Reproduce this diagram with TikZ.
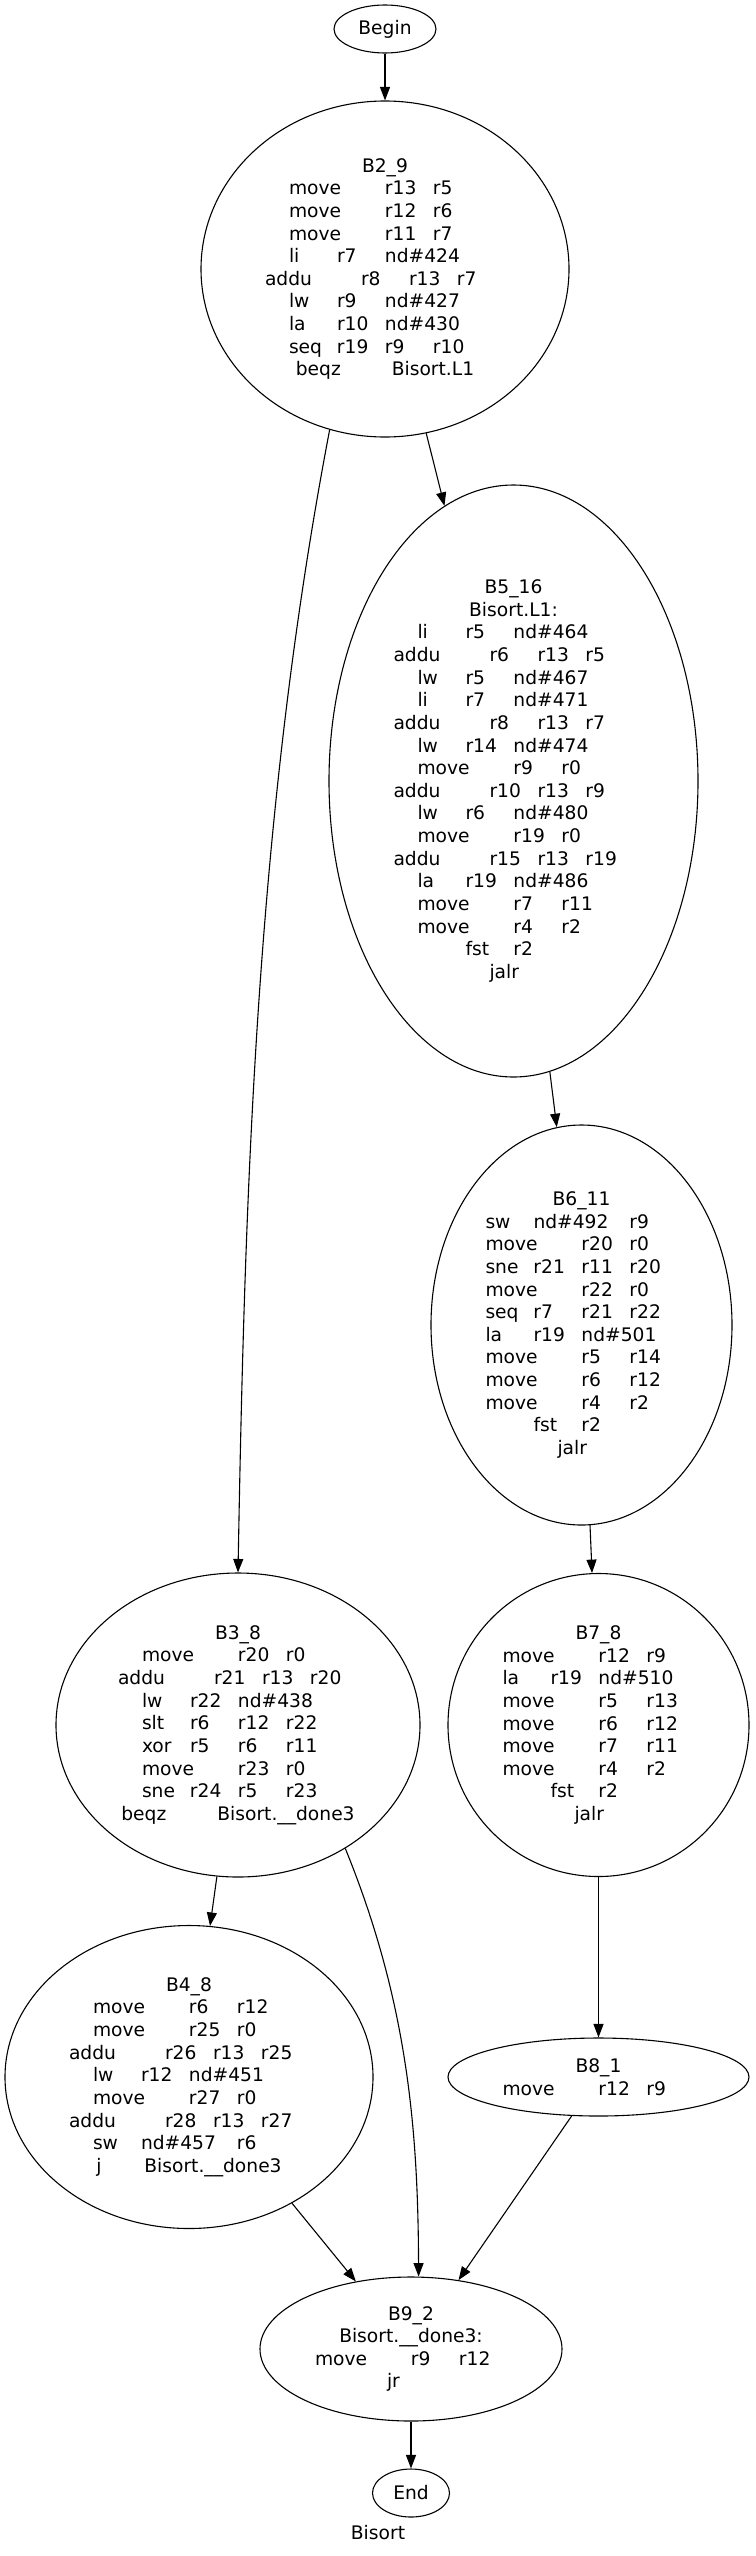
\documentclass[tikz,border=0pt]{standalone}
\usepackage{fontspec}
\setmainfont{DejaVu Sans}
\usetikzlibrary{arrows.meta,shapes.geometric}
\newlength\tabw
\setlength\tabw{48pt}
\newcommand\tc[2]{\makebox[#1\tabw][l]{#2}}

\begin{document}
\begin{tikzpicture}[x=1pt,y=-1pt,
    block/.style={draw,ellipse,inner sep=0pt,align=center,line width=1.1pt,
      font=\fontsize{18.67pt}{22.65pt}\selectfont},
    edge/.style={-{Triangle[length=13.5pt,width=10pt]},line width=1.1pt}]
  \useasboundingbox (0,0) rectangle (755,2556);

  % blocks
  \node[block,minimum width=102pt,minimum height=48pt] (begin) at (385,29) {Begin};
  \node[block,minimum width=368pt,minimum height=336pt] (b29) at (385,269) {B2\_9\\
    \tc{2}{move}\tc{1}{r13}\tc{1}{r5}\\
    \tc{2}{move}\tc{1}{r12}\tc{1}{r6}\\
    \tc{2}{move}\tc{1}{r11}\tc{1}{r7}\\
    \tc{1}{li}\tc{1}{r7}\tc{2}{nd\#424}\\
    \tc{2}{addu}\tc{1}{r8}\tc{1}{r13}\tc{1}{r7}\\
    \tc{1}{lw}\tc{1}{r9}\tc{2}{nd\#427}\\
    \tc{1}{la}\tc{1}{r10}\tc{2}{nd\#430}\\
    \tc{1}{seq}\tc{1}{r19}\tc{1}{r9}\tc{1}{r10}\\
    \tc{2}{beqz}Bisort.L1};
  \node[block,minimum width=369pt,minimum height=592pt] (b516) at (513.5,781) {B5\_16\\
    Bisort.L1:\\
    \tc{1}{li}\tc{1}{r5}\tc{2}{nd\#464}\\
    \tc{2}{addu}\tc{1}{r6}\tc{1}{r13}\tc{1}{r5}\\
    \tc{1}{lw}\tc{1}{r5}\tc{2}{nd\#467}\\
    \tc{1}{li}\tc{1}{r7}\tc{2}{nd\#471}\\
    \tc{2}{addu}\tc{1}{r8}\tc{1}{r13}\tc{1}{r7}\\
    \tc{1}{lw}\tc{1}{r14}\tc{2}{nd\#474}\\
    \tc{2}{move}\tc{1}{r9}\tc{1}{r0}\\
    \tc{2}{addu}\tc{1}{r10}\tc{1}{r13}\tc{1}{r9}\\
    \tc{1}{lw}\tc{1}{r6}\tc{2}{nd\#480}\\
    \tc{2}{move}\tc{1}{r19}\tc{1}{r0}\\
    \tc{2}{addu}\tc{1}{r15}\tc{1}{r13}\tc{1}{r19}\\
    \tc{1}{la}\tc{1}{r19}\tc{2}{nd\#486}\\
    \tc{2}{move}\tc{1}{r7}\tc{1}{r11}\\
    \tc{2}{move}\tc{1}{r4}\tc{1}{r2}\\
    \tc{1}{fst}\tc{1}{r2}\\
    \tc{1}{jalr}};
  \node[block,minimum width=301pt,minimum height=400pt] (b611) at (581.5,1325) {B6\_11\\
    \tc{1}{sw}\tc{2}{nd\#492}\tc{1}{r9}\\
    \tc{2}{move}\tc{1}{r20}\tc{1}{r0}\\
    \tc{1}{sne}\tc{1}{r21}\tc{1}{r11}\tc{1}{r20}\\
    \tc{2}{move}\tc{1}{r22}\tc{1}{r0}\\
    \tc{1}{seq}\tc{1}{r7}\tc{1}{r21}\tc{1}{r22}\\
    \tc{1}{la}\tc{1}{r19}\tc{2}{nd\#501}\\
    \tc{2}{move}\tc{1}{r5}\tc{1}{r14}\\
    \tc{2}{move}\tc{1}{r6}\tc{1}{r12}\\
    \tc{2}{move}\tc{1}{r4}\tc{1}{r2}\\
    \tc{1}{fst}\tc{1}{r2}\\
    \tc{1}{jalr}};
  \node[block,minimum width=364pt,minimum height=304pt] (b38) at (238,1725) {B3\_8\\
    \tc{2}{move}\tc{1}{r20}\tc{1}{r0}\\
    \tc{2}{addu}\tc{1}{r21}\tc{1}{r13}\tc{1}{r20}\\
    \tc{1}{lw}\tc{1}{r22}\tc{2}{nd\#438}\\
    \tc{1}{slt}\tc{1}{r6}\tc{1}{r12}\tc{1}{r22}\\
    \tc{1}{xor}\tc{1}{r5}\tc{1}{r6}\tc{1}{r11}\\
    \tc{2}{move}\tc{1}{r23}\tc{1}{r0}\\
    \tc{1}{sne}\tc{1}{r24}\tc{1}{r5}\tc{1}{r23}\\
    \tc{2}{beqz}Bisort.\_\_done3};
  \node[block,minimum width=301pt,minimum height=303pt] (b78) at (598.5,1725) {B7\_8\\
    \tc{2}{move}\tc{1}{r12}\tc{1}{r9}\\
    \tc{1}{la}\tc{1}{r19}\tc{2}{nd\#510}\\
    \tc{2}{move}\tc{1}{r5}\tc{1}{r13}\\
    \tc{2}{move}\tc{1}{r6}\tc{1}{r12}\\
    \tc{2}{move}\tc{1}{r7}\tc{1}{r11}\\
    \tc{2}{move}\tc{1}{r4}\tc{1}{r2}\\
    \tc{1}{fst}\tc{1}{r2}\\
    \tc{1}{jalr}};
  \node[block,minimum width=368pt,minimum height=303pt] (b48) at (189,2077) {B4\_8\\
    \tc{2}{move}\tc{1}{r6}\tc{1}{r12}\\
    \tc{2}{move}\tc{1}{r25}\tc{1}{r0}\\
    \tc{2}{addu}\tc{1}{r26}\tc{1}{r13}\tc{1}{r25}\\
    \tc{1}{lw}\tc{1}{r12}\tc{2}{nd\#451}\\
    \tc{2}{move}\tc{1}{r27}\tc{1}{r0}\\
    \tc{2}{addu}\tc{1}{r28}\tc{1}{r13}\tc{1}{r27}\\
    \tc{1}{sw}\tc{2}{nd\#457}\tc{1}{r6}\\
    \tc{1}{j}Bisort.\_\_done3};
  \node[block,minimum width=301pt,minimum height=78pt] (b81) at (598.5,2077) {B8\_1\\
    \tc{2}{move}\tc{1}{r12}\tc{1}{r9}};
  \node[block,minimum width=302pt,minimum height=144pt] (b92) at (411,2349) {B9\_2\\
    Bisort.\_\_done3:\\
    \tc{2}{move}\tc{1}{r9}\tc{1}{r12}\\
    \tc{1}{jr}};
  \node[block,minimum width=77pt,minimum height=48pt] (End) at (411,2493) {End};
  \node[font=\fontsize{18.67pt}{22.65pt}\selectfont] (title) at (378,2533) {Bisort};

  % flow
  \draw[edge] (begin) -- (b29);
  \draw[edge] (b29.251) .. controls (257,810) and (245,1183) .. (b38.north);
  \draw[edge] (b29) -- (b516);
  \draw[edge] (b516) -- (b611);
  \draw[edge] (b611) -- (b78);
  \draw[edge] (b78) -- (b81);
  \draw[edge] (b38) -- (b48);
  \draw[edge] (b38.311) .. controls (407,2000) and (418,2127) .. (b92.84);
  \draw[edge] (b48) -- (b92);
  \draw[edge] (b81) -- (b92);
  \draw[edge] (b92) -- (End);
\end{tikzpicture}
\end{document}
